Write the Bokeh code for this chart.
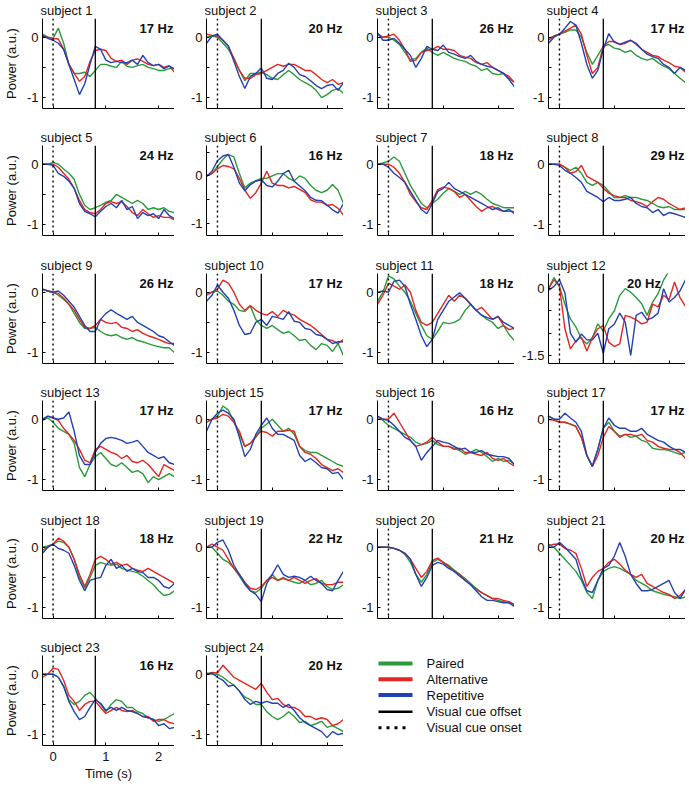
from bokeh.plotting import figure
from bokeh.layouts import column, row
from bokeh.models import Span, Label, FixedTicker, Range1d
from bokeh.embed import file_html
from bokeh.resources import INLINE

# ---------------- data ----------------
time_s = [-0.2, -0.1, 0.0, 0.1, 0.2, 0.3, 0.4, 0.5, 0.6, 0.7, 0.8, 0.9, 1.0,
          1.1, 1.2, 1.3, 1.4, 1.5, 1.6, 1.7, 1.8, 1.9, 2.0, 2.1, 2.2, 2.3]

subjects = ["subject 1", "subject 2", "subject 3", "subject 4",
            "subject 5", "subject 6", "subject 7", "subject 8",
            "subject 9", "subject 10", "subject 11", "subject 12",
            "subject 13", "subject 15", "subject 16", "subject 17",
            "subject 18", "subject 19", "subject 20", "subject 21",
            "subject 23", "subject 24"]
freqs = ["17 Hz", "20 Hz", "26 Hz", "17 Hz",
         "24 Hz", "16 Hz", "18 Hz", "29 Hz",
         "26 Hz", "17 Hz", "18 Hz", "20 Hz",
         "17 Hz", "17 Hz", "16 Hz", "17 Hz",
         "18 Hz", "22 Hz", "21 Hz", "20 Hz",
         "16 Hz", "20 Hz"]
y_low = [-1.18] * 5 + [-1.25] + [-1.18] * 5 + [-1.68] + [-1.18] * 10
y_high = [0.31] * 5 + [0.64] + [0.31] * 5 + [0.34] + [0.31] * 10

x_ticks = [0, 1, 2]
x_tick_labels = ["0", "1", "2"]

s1_paired = [0.05, 0.0, -0.02, 0.15, -0.1, -0.45, -0.6, -0.6, -0.58, -0.65, -0.55, -0.45, -0.45, -0.48, -0.5, -0.4, -0.48, -0.5, -0.47, -0.45, -0.5, -0.52, -0.55, -0.55, -0.52, -0.52]
s1_alt = [0.02, 0.0, -0.02, -0.03, -0.2, -0.45, -0.6, -0.73, -0.65, -0.4, -0.22, -0.2, -0.22, -0.35, -0.4, -0.38, -0.45, -0.38, -0.36, -0.4, -0.45, -0.47, -0.45, -0.5, -0.47, -0.58]
s1_rep = [0.03, -0.02, -0.05, -0.1, -0.2, -0.45, -0.7, -0.95, -0.77, -0.45, -0.15, -0.2, -0.38, -0.42, -0.4, -0.42, -0.42, -0.38, -0.45, -0.3, -0.42, -0.47, -0.45, -0.52, -0.48, -0.52]

s2_paired = [0.0, 0.02, 0.0, -0.1, -0.2, -0.35, -0.55, -0.72, -0.6, -0.6, -0.58, -0.62, -0.68, -0.7, -0.62, -0.55, -0.62, -0.7, -0.75, -0.8, -0.88, -1.0, -0.95, -0.88, -0.85, -0.93]
s2_alt = [0.05, 0.03, 0.02, -0.05, -0.15, -0.35, -0.55, -0.68, -0.68, -0.62, -0.6, -0.55, -0.5, -0.45, -0.48, -0.45, -0.45, -0.5, -0.55, -0.55, -0.62, -0.7, -0.75, -0.7, -0.78, -0.75]
s2_rep = [-0.1, 0.02, 0.05, -0.05, -0.15, -0.4, -0.65, -0.85, -0.65, -0.6, -0.51, -0.68, -0.7, -0.6, -0.55, -0.43, -0.5, -0.62, -0.65, -0.72, -0.8, -0.85, -0.8, -0.78, -0.88, -0.75]

s3_paired = [0.05, 0.0, 0.0, -0.05, -0.12, -0.25, -0.38, -0.35, -0.25, -0.18, -0.25, -0.3, -0.25, -0.3, -0.35, -0.38, -0.4, -0.45, -0.48, -0.55, -0.52, -0.6, -0.62, -0.6, -0.68, -0.75]
s3_alt = [0.05, 0.0, 0.02, 0.05, -0.05, -0.2, -0.4, -0.38, -0.25, -0.22, -0.2, -0.15, -0.2, -0.2, -0.22, -0.3, -0.33, -0.35, -0.42, -0.45, -0.42, -0.5, -0.55, -0.6, -0.65, -0.75]
s3_rep = [0.07, -0.05, -0.05, -0.02, -0.1, -0.2, -0.3, -0.5, -0.35, -0.15, -0.2, -0.22, -0.13, -0.25, -0.28, -0.32, -0.35, -0.3, -0.4, -0.45, -0.48, -0.5, -0.55, -0.6, -0.7, -0.82]

s4_paired = [-0.02, 0.02, 0.05, 0.08, 0.12, 0.12, 0.0, -0.25, -0.45, -0.3, -0.15, -0.12, -0.18, -0.2, -0.25, -0.22, -0.3, -0.35, -0.38, -0.35, -0.42, -0.48, -0.52, -0.6, -0.68, -0.75]
s4_alt = [-0.05, 0.02, 0.05, 0.1, 0.15, 0.2, 0.05, -0.3, -0.6, -0.5, -0.15, -0.07, -0.07, -0.12, -0.1, -0.05, -0.12, -0.2, -0.25, -0.3, -0.32, -0.38, -0.42, -0.48, -0.5, -0.58]
s4_rep = [-0.1, 0.0, 0.05, 0.15, 0.26, 0.2, -0.1, -0.45, -0.68, -0.55, -0.2, 0.06, -0.08, -0.12, -0.08, -0.05, -0.1, -0.2, -0.28, -0.32, -0.35, -0.45, -0.5, -0.6, -0.5, -0.55]

s5_paired = [0.0, 0.0, 0.03, 0.0, -0.08, -0.15, -0.25, -0.5, -0.68, -0.75, -0.72, -0.68, -0.63, -0.6, -0.5, -0.55, -0.6, -0.65, -0.6, -0.65, -0.75, -0.72, -0.75, -0.72, -0.78, -0.8]
s5_alt = [0.0, 0.0, 0.0, -0.05, -0.15, -0.25, -0.4, -0.6, -0.75, -0.8, -0.82, -0.75, -0.65, -0.62, -0.65, -0.62, -0.7, -0.8, -0.85, -0.75, -0.82, -0.88, -0.85, -0.88, -0.88, -0.92]
s5_rep = [0.0, 0.0, -0.02, -0.15, -0.2, -0.28, -0.4, -0.65, -0.78, -0.82, -0.87, -0.78, -0.7, -0.65, -0.72, -0.6, -0.75, -0.7, -0.9, -0.8, -0.85, -0.82, -0.9, -0.75, -0.85, -0.9]

s6_paired = [0.0, 0.05, 0.2, 0.35, 0.45, 0.4, 0.05, -0.25, -0.15, -0.1, -0.05, -0.05, 0.0, 0.05, 0.05, -0.05, -0.1, 0.0, -0.05, -0.2, -0.3, -0.35, -0.3, -0.18, -0.3, -0.58]
s6_alt = [0.0, 0.05, 0.15, 0.22, 0.2, 0.15, -0.05, -0.3, -0.47, -0.35, -0.15, 0.1, -0.15, -0.2, -0.2, -0.25, -0.22, -0.28, -0.35, -0.5, -0.55, -0.55, -0.62, -0.6, -0.68, -0.82]
s6_rep = [-0.01, 0.1, 0.32, 0.42, 0.45, 0.18, -0.15, -0.31, -0.18, -0.11, -0.08, -0.2, -0.23, -0.11, 0.05, 0.12, -0.11, -0.21, -0.31, -0.45, -0.51, -0.52, -0.61, -0.71, -0.78, -0.58]

s7_paired = [0.0, 0.02, 0.05, 0.12, 0.05, -0.15, -0.35, -0.5, -0.65, -0.72, -0.65, -0.58, -0.48, -0.4, -0.45, -0.5, -0.45, -0.5, -0.45, -0.5, -0.58, -0.65, -0.68, -0.72, -0.72, -0.72]
s7_alt = [0.0, 0.0, 0.0, -0.05, -0.15, -0.3, -0.5, -0.62, -0.72, -0.75, -0.6, -0.42, -0.38, -0.4, -0.45, -0.55, -0.5, -0.6, -0.7, -0.78, -0.72, -0.7, -0.75, -0.78, -0.78, -0.78]
s7_rep = [0.0, 0.0, -0.05, -0.15, -0.22, -0.3, -0.45, -0.6, -0.75, -0.82, -0.65, -0.45, -0.4, -0.3, -0.4, -0.45, -0.5, -0.55, -0.6, -0.65, -0.7, -0.75, -0.72, -0.78, -0.75, -0.82]

s8_paired = [0.0, 0.0, 0.0, -0.05, -0.1, -0.05, -0.15, -0.3, -0.35, -0.3, -0.35, -0.45, -0.55, -0.55, -0.52, -0.55, -0.55, -0.58, -0.6, -0.65, -0.7, -0.72, -0.7, -0.75, -0.75, -0.75]
s8_alt = [0.0, 0.0, 0.0, -0.05, -0.15, -0.12, -0.02, -0.2, -0.25, -0.3, -0.4, -0.48, -0.52, -0.55, -0.55, -0.6, -0.62, -0.65, -0.7, -0.62, -0.55, -0.58, -0.65, -0.7, -0.75, -0.72]
s8_rep = [0.0, 0.0, -0.02, -0.1, -0.15, -0.22, -0.3, -0.45, -0.5, -0.55, -0.62, -0.55, -0.6, -0.6, -0.58, -0.55, -0.65, -0.7, -0.72, -0.8, -0.75, -0.85, -0.8, -0.82, -0.85, -0.88]

s9_paired = [0.05, 0.02, 0.0, -0.05, -0.12, -0.2, -0.35, -0.5, -0.6, -0.6, -0.58, -0.65, -0.7, -0.72, -0.7, -0.75, -0.78, -0.75, -0.8, -0.82, -0.85, -0.88, -0.9, -0.92, -0.92, -1.0]
s9_alt = [0.05, 0.02, 0.0, -0.02, -0.1, -0.2, -0.3, -0.45, -0.58, -0.6, -0.55, -0.45, -0.5, -0.52, -0.5, -0.58, -0.6, -0.65, -0.62, -0.68, -0.72, -0.75, -0.78, -0.82, -0.85, -0.85]
s9_rep = [0.05, 0.02, 0.0, 0.02, -0.05, -0.15, -0.25, -0.4, -0.55, -0.65, -0.65, -0.45, -0.35, -0.29, -0.35, -0.4, -0.45, -0.4, -0.5, -0.55, -0.6, -0.65, -0.72, -0.75, -0.82, -0.88]

s10_paired = [-0.02, 0.0, 0.02, -0.05, -0.15, -0.2, -0.3, -0.32, -0.23, -0.45, -0.55, -0.6, -0.55, -0.62, -0.68, -0.65, -0.72, -0.8, -0.78, -0.88, -0.95, -0.85, -0.88, -0.98, -0.85, -1.05]
s10_alt = [-0.05, 0.0, 0.05, 0.2, 0.15, 0.0, -0.2, -0.3, -0.22, -0.3, -0.35, -0.38, -0.32, -0.4, -0.3, -0.35, -0.38, -0.45, -0.5, -0.55, -0.62, -0.7, -0.78, -0.8, -0.85, -0.78]
s10_rep = [-0.15, -0.05, 0.12, 0.0, -0.1, -0.3, -0.55, -0.7, -0.68, -0.5, -0.45, -0.55, -0.4, -0.42, -0.45, -0.32, -0.48, -0.5, -0.6, -0.62, -0.7, -0.72, -0.78, -0.85, -0.82, -0.82]

s11_paired = [-0.15, 0.0, 0.27, 0.22, 0.1, 0.0, -0.15, -0.35, -0.55, -0.72, -0.78, -0.65, -0.5, -0.52, -0.5, -0.45, -0.3, -0.2, -0.3, -0.38, -0.45, -0.5, -0.6, -0.55, -0.7, -0.8]
s11_alt = [-0.2, -0.05, 0.15, 0.1, 0.05, 0.12, 0.0, -0.3, -0.5, -0.55, -0.5, -0.35, -0.2, -0.05, -0.15, -0.05, -0.1, -0.2, -0.3, -0.25, -0.35, -0.45, -0.4, -0.55, -0.62, -0.6]
s11_rep = [0.0, 0.02, 0.0, 0.18, 0.2, 0.1, -0.2, -0.45, -0.72, -0.9, -0.78, -0.45, -0.3, -0.15, -0.08, -0.01, -0.1, -0.2, -0.3, -0.38, -0.42, -0.45, -0.4, -0.5, -0.55, -0.6]

s12_paired = [0.0, 0.25, 0.05, -0.35, -0.68, -0.86, -1.12, -1.24, -1.1, -0.79, -0.95, -0.68, -0.5, -0.15, 0.0, -0.08, -0.2, -0.34, -0.6, -0.3, -0.11, 0.19, 0.4, 0.55, 0.7, 0.8]
s12_alt = [0.0, 0.2, 0.05, -0.9, -1.35, -1.17, -1.09, -1.4, -1.1, -0.9, -0.83, -1.2, -1.3, -1.24, -0.6, -0.64, -0.7, -0.79, -0.75, -0.35, -0.41, -0.15, -0.25, 0.15, -0.2, -0.4]
s12_rep = [-0.04, 0.05, 0.2, -0.1, -1.0, -1.2, -1.02, -1.15, -1.15, -1.0, -1.45, -0.9, -0.8, -0.55, -0.75, -1.5, -0.6, -0.53, -0.7, -0.65, -0.55, 0.0, -0.3, -0.2, -0.05, 0.2]

s13_paired = [0.0, 0.02, -0.05, -0.15, -0.2, -0.25, -0.4, -0.8, -0.95, -0.75, -0.62, -0.55, -0.65, -0.75, -0.78, -0.72, -0.8, -0.88, -0.85, -0.9, -1.05, -0.95, -1.0, -0.95, -0.9, -0.95]
s13_alt = [-0.02, 0.05, 0.02, -0.02, -0.15, -0.25, -0.35, -0.5, -0.68, -0.72, -0.5, -0.45, -0.5, -0.55, -0.58, -0.65, -0.6, -0.7, -0.72, -0.68, -0.75, -0.85, -0.95, -0.75, -0.8, -0.85]
s13_rep = [0.0, 0.05, 0.02, 0.0, 0.02, 0.12, -0.2, -0.6, -0.75, -0.75, -0.55, -0.4, -0.32, -0.3, -0.32, -0.35, -0.4, -0.38, -0.35, -0.45, -0.55, -0.6, -0.65, -0.62, -0.72, -0.75]

s15_paired = [-0.05, 0.0, 0.05, 0.22, 0.15, -0.05, -0.25, -0.45, -0.4, -0.3, -0.15, -0.08, 0.0, -0.1, -0.2, -0.15, -0.25, -0.45, -0.52, -0.55, -0.55, -0.6, -0.65, -0.7, -0.75, -0.78]
s15_alt = [-0.05, 0.0, 0.02, 0.08, 0.05, -0.05, -0.2, -0.45, -0.4, -0.28, -0.2, -0.22, -0.28, -0.2, -0.2, -0.18, -0.2, -0.45, -0.55, -0.58, -0.65, -0.75, -0.8, -0.85, -0.82, -0.88]
s15_rep = [-0.2, 0.0, 0.1, 0.15, 0.1, 0.0, -0.3, -0.62, -0.5, -0.25, -0.1, 0.02, -0.15, -0.25, -0.25, -0.3, -0.35, -0.6, -0.7, -0.65, -0.72, -0.8, -0.82, -0.9, -0.88, -1.0]

s16_paired = [0.05, -0.02, -0.1, -0.15, -0.2, -0.25, -0.3, -0.38, -0.42, -0.4, -0.35, -0.42, -0.45, -0.45, -0.48, -0.52, -0.58, -0.55, -0.5, -0.55, -0.62, -0.7, -0.65, -0.7, -0.68, -0.75]
s16_alt = [0.0, 0.0, 0.0, 0.1, -0.05, -0.2, -0.35, -0.45, -0.42, -0.38, -0.3, -0.38, -0.45, -0.45, -0.5, -0.48, -0.55, -0.55, -0.58, -0.6, -0.55, -0.65, -0.68, -0.65, -0.72, -0.78]
s16_rep = [0.05, 0.0, -0.02, -0.1, -0.2, -0.3, -0.35, -0.45, -0.68, -0.55, -0.45, -0.35, -0.38, -0.4, -0.45, -0.5, -0.48, -0.55, -0.55, -0.52, -0.58, -0.6, -0.62, -0.62, -0.65, -0.75]

s17_paired = [0.05, 0.0, -0.05, -0.05, -0.08, -0.12, -0.3, -0.6, -0.78, -0.5, -0.15, -0.05, -0.2, -0.28, -0.25, -0.3, -0.28, -0.35, -0.38, -0.48, -0.5, -0.5, -0.52, -0.55, -0.58, -0.55]
s17_alt = [0.0, -0.02, -0.05, -0.05, -0.08, -0.12, -0.3, -0.6, -0.78, -0.6, -0.3, -0.12, -0.2, -0.3, -0.25, -0.25, -0.28, -0.25, -0.35, -0.38, -0.45, -0.48, -0.5, -0.5, -0.55, -0.65]
s17_rep = [0.05, 0.0, 0.0, 0.1, 0.02, -0.05, -0.2, -0.6, -0.78, -0.5, -0.15, 0.02, -0.1, -0.15, -0.15, -0.2, -0.2, -0.15, -0.25, -0.3, -0.35, -0.38, -0.45, -0.5, -0.5, -0.55]

s18_paired = [0.0, 0.02, 0.05, 0.1, 0.08, 0.0, -0.2, -0.5, -0.68, -0.5, -0.3, -0.25, -0.28, -0.3, -0.28, -0.35, -0.38, -0.4, -0.42, -0.48, -0.55, -0.62, -0.72, -0.8, -0.78, -0.72]
s18_alt = [-0.05, 0.0, 0.05, 0.15, 0.1, 0.0, -0.2, -0.45, -0.65, -0.45, -0.2, -0.15, -0.2, -0.28, -0.25, -0.3, -0.28, -0.35, -0.38, -0.4, -0.35, -0.4, -0.45, -0.5, -0.55, -0.6]
s18_rep = [-0.1, 0.0, 0.05, -0.02, -0.05, -0.1, -0.3, -0.55, -0.72, -0.55, -0.52, -0.5, -0.3, -0.2, -0.35, -0.3, -0.4, -0.35, -0.4, -0.42, -0.5, -0.5, -0.55, -0.65, -0.68, -0.6]

s19_paired = [0.0, 0.0, -0.1, -0.2, -0.25, -0.35, -0.48, -0.62, -0.72, -0.75, -0.68, -0.55, -0.45, -0.55, -0.5, -0.55, -0.58, -0.6, -0.55, -0.62, -0.6, -0.55, -0.65, -0.7, -0.68, -0.62]
s19_alt = [0.0, 0.05, 0.0, -0.05, -0.2, -0.35, -0.45, -0.58, -0.68, -0.7, -0.65, -0.55, -0.5, -0.55, -0.52, -0.55, -0.5, -0.55, -0.6, -0.55, -0.52, -0.6, -0.62, -0.62, -0.58, -0.58]
s19_rep = [0.0, 0.0, 0.08, 0.12, -0.05, -0.3, -0.45, -0.6, -0.72, -0.78, -0.9, -0.6, -0.45, -0.29, -0.45, -0.5, -0.48, -0.5, -0.55, -0.48, -0.55, -0.6, -0.7, -0.72, -0.55, -0.4]

s20_paired = [0.0, 0.0, 0.0, -0.02, -0.05, -0.12, -0.25, -0.45, -0.58, -0.45, -0.25, -0.2, -0.25, -0.3, -0.38, -0.45, -0.52, -0.6, -0.68, -0.75, -0.8, -0.85, -0.88, -0.9, -0.92, -0.95]
s20_alt = [0.0, 0.0, 0.0, -0.02, -0.05, -0.1, -0.2, -0.35, -0.5, -0.4, -0.22, -0.18, -0.25, -0.32, -0.4, -0.45, -0.55, -0.62, -0.7, -0.75, -0.8, -0.85, -0.85, -0.88, -0.9, -0.95]
s20_rep = [0.0, 0.0, 0.0, -0.02, -0.05, -0.1, -0.2, -0.45, -0.65, -0.5, -0.3, -0.25, -0.28, -0.35, -0.4, -0.48, -0.55, -0.62, -0.72, -0.82, -0.88, -0.88, -0.9, -0.92, -0.92, -0.98]

s21_paired = [0.05, 0.0, -0.1, -0.2, -0.3, -0.4, -0.55, -0.75, -0.85, -0.55, -0.4, -0.35, -0.32, -0.35, -0.4, -0.45, -0.55, -0.6, -0.65, -0.72, -0.75, -0.78, -0.8, -0.82, -0.85, -0.82]
s21_alt = [0.02, 0.05, 0.05, -0.02, -0.05, -0.1, -0.35, -0.65, -0.5, -0.4, -0.35, -0.25, -0.2, -0.28, -0.38, -0.45, -0.5, -0.45, -0.6, -0.65, -0.7, -0.75, -0.78, -0.85, -0.8, -0.7]
s21_rep = [0.0, 0.0, 0.08, 0.0, -0.1, -0.2, -0.5, -0.72, -0.75, -0.55, -0.35, -0.3, -0.15, 0.08, -0.15, -0.45, -0.6, -0.72, -0.72, -0.7, -0.65, -0.6, -0.55, -0.75, -0.85, -0.7]

s23_paired = [0.0, 0.0, 0.0, -0.05, -0.2, -0.42, -0.5, -0.45, -0.35, -0.3, -0.4, -0.5, -0.62, -0.5, -0.42, -0.45, -0.55, -0.55, -0.62, -0.65, -0.72, -0.75, -0.78, -0.75, -0.7, -0.65]
s23_alt = [-0.05, 0.0, 0.1, 0.08, -0.1, -0.35, -0.45, -0.6, -0.5, -0.45, -0.45, -0.55, -0.65, -0.6, -0.55, -0.6, -0.62, -0.6, -0.65, -0.7, -0.7, -0.78, -0.75, -0.75, -0.8, -0.82]
s23_rep = [0.0, 0.0, 0.0, -0.05, -0.2, -0.45, -0.62, -0.75, -0.7, -0.55, -0.42, -0.48, -0.6, -0.55, -0.6, -0.55, -0.6, -0.62, -0.65, -0.7, -0.72, -0.75, -0.85, -0.82, -0.9, -0.88]

s24_paired = [0.02, 0.0, 0.0, -0.05, -0.12, -0.18, -0.28, -0.38, -0.42, -0.5, -0.5, -0.62, -0.7, -0.75, -0.7, -0.62, -0.7, -0.8, -0.78, -0.85, -0.82, -0.78, -0.88, -0.85, -0.9, -0.95]
s24_alt = [0.0, 0.03, 0.02, 0.15, 0.05, -0.05, -0.1, -0.15, -0.2, -0.25, -0.15, -0.3, -0.42, -0.4, -0.5, -0.55, -0.55, -0.6, -0.7, -0.7, -0.75, -0.72, -0.75, -0.85, -0.82, -0.75]
s24_rep = [0.0, 0.02, -0.05, -0.1, -0.2, -0.18, -0.28, -0.42, -0.5, -0.45, -0.48, -0.45, -0.48, -0.48, -0.55, -0.5, -0.6, -0.72, -0.8, -0.85, -0.9, -0.95, -1.05, -0.95, -1.0, -0.98]

paired_series = [s1_paired, s2_paired, s3_paired, s4_paired, s5_paired, s6_paired,
                 s7_paired, s8_paired, s9_paired, s10_paired, s11_paired, s12_paired,
                 s13_paired, s15_paired, s16_paired, s17_paired, s18_paired, s19_paired,
                 s20_paired, s21_paired, s23_paired, s24_paired]
alt_series = [s1_alt, s2_alt, s3_alt, s4_alt, s5_alt, s6_alt, s7_alt, s8_alt,
              s9_alt, s10_alt, s11_alt, s12_alt, s13_alt, s15_alt, s16_alt, s17_alt,
              s18_alt, s19_alt, s20_alt, s21_alt, s23_alt, s24_alt]
rep_series = [s1_rep, s2_rep, s3_rep, s4_rep, s5_rep, s6_rep, s7_rep, s8_rep,
              s9_rep, s10_rep, s11_rep, s12_rep, s13_rep, s15_rep, s16_rep, s17_rep,
              s18_rep, s19_rep, s20_rep, s21_rep, s23_rep, s24_rep]

cue_onset = 0.0
cue_offset = 0.8
legend_labels = ["Paired", "Alternative", "Repetitive", "Visual cue offset", "Visual cue onset"]

# ---------------- style / layout ----------------
FONT = "Liberation Sans"
GREEN = "#2a9a3a"
RED = "#e42522"
BLUE = "#2341b3"
LW = 1.4
TOP = 17
FRAME_W = 137
FRAME_H = 91
COL_LEFT = [37, 32, 34, 34]            # left border of each column
ROW_HEIGHTS = [127, 128, 127, 128, 127]
LAST_H = 150
LAST_BOTTOM = LAST_H - TOP - FRAME_H


def make_panel(i, col, height, with_x_labels):
    left = COL_LEFT[col]
    bottom = height - TOP - FRAME_H
    p = figure(width=left + FRAME_W, height=height,
               x_range=Range1d(-0.2, 2.3), y_range=Range1d(y_low[i], y_high[i]),
               output_backend="svg", toolbar_location=None,
               min_border_left=left, min_border_right=0,
               min_border_top=TOP, min_border_bottom=bottom,
               title=subjects[i])
    p.title.align = "left"
    p.title.offset = -2
    p.title.standoff = 1
    p.title.text_font = FONT
    p.title.text_font_size = "13px"
    p.title.text_font_style = "normal"
    p.title.text_color = "#111111"
    p.outline_line_color = None
    p.grid.visible = False

    p.line(time_s, paired_series[i], line_color=GREEN, line_width=LW)
    p.line(time_s, alt_series[i], line_color=RED, line_width=LW)
    p.line(time_s, rep_series[i], line_color=BLUE, line_width=LW)

    p.add_layout(Span(location=cue_onset, dimension="height", line_color="black",
                      line_width=1.4, line_dash="2 3"))
    p.add_layout(Span(location=cue_offset, dimension="height", line_color="black",
                      line_width=1.3))

    hz_x = 1.87 if subjects[i] == "subject 12" else 2.3
    p.add_layout(Label(x=hz_x, y=y_high[i], x_offset=-1, y_offset=-2, text=freqs[i],
                       text_align="right", text_baseline="top",
                       text_font=FONT, text_font_size="13px",
                       text_font_style="bold", text_color="#111111"))

    xa = p.xaxis[0]
    xa.ticker = FixedTicker(ticks=x_ticks)
    xa.major_tick_in = 3
    xa.major_tick_out = 0
    xa.minor_tick_line_color = None
    xa.axis_line_color = "black"
    xa.major_tick_line_color = "black"
    xa.major_label_text_font = FONT
    xa.major_label_text_font_size = "13px"
    xa.major_label_text_color = "#111111"
    if with_x_labels:
        xa.major_label_overrides = {t: s for t, s in zip(x_ticks, x_tick_labels)}
        xa.major_label_standoff = 6
        xa.axis_label = "Time (s)"
        xa.axis_label_text_font = FONT
        xa.axis_label_text_font_size = "13px"
        xa.axis_label_text_font_style = "normal"
        xa.axis_label_text_color = "#111111"
        xa.axis_label_standoff = 2
    else:
        xa.major_label_overrides = {t: "" for t in x_ticks}
        xa.major_label_standoff = 0

    ya = p.yaxis[0]
    lo, hi = y_low[i], y_high[i]
    ticks = [v for v in [-1.5, -1.0, -0.5, 0.0, 0.5] if lo <= v <= hi]
    lab_lo = -1.5 if lo < -1.5 else -1.0
    ya.ticker = FixedTicker(ticks=ticks)
    ya.major_label_overrides = {t: ("0" if t == 0 else ("%g" % t if t == lab_lo else "")) for t in ticks}
    ya.major_tick_in = 3
    ya.major_tick_out = 0
    ya.minor_tick_line_color = None
    ya.major_label_standoff = 4
    ya.major_label_text_font = FONT
    ya.major_label_text_font_size = "13px"
    ya.major_label_text_color = "#111111"
    if col == 0:
        ya.axis_label = "Power (a.u.)"
        ya.axis_label_text_font = FONT
        ya.axis_label_text_font_size = "13px"
        ya.axis_label_text_font_style = "normal"
        ya.axis_label_text_color = "#111111"
        ya.axis_label_standoff = 5
    return p


rows = []
idx = 0
for r in range(5):
    figs = []
    for c in range(4):
        figs.append(make_panel(idx, c, ROW_HEIGHTS[r], False))
        idx += 1
    rows.append(row(*figs))

f23 = make_panel(20, 0, LAST_H, True)
f24 = make_panel(21, 1, LAST_H, False)

# legend panel: blank plot with the same borders as its neighbours;
# its ranges run in pixels from the top-left corner of its frame
LG_W = 342
lg = figure(width=LG_W, height=LAST_H, x_range=Range1d(0, LG_W), y_range=Range1d(FRAME_H, 0),
            output_backend="svg", toolbar_location=None,
            x_axis_location=None, y_axis_location=None,
            min_border_left=0, min_border_right=0,
            min_border_top=TOP, min_border_bottom=LAST_BOTTOM)
lg.outline_line_color = None
lg.grid.visible = False
row_y = [8, 24, 40, 57, 73]
gx0, gx1, tx = 35, 69, 83
lg.segment(x0=[gx0] * 3, y0=row_y[:3], x1=[gx1] * 3, y1=row_y[:3],
           line_color=[GREEN, RED, BLUE], line_width=4)
lg.segment(x0=[gx0], y0=[row_y[3]], x1=[gx1], y1=[row_y[3]], line_color="black", line_width=2.5)
lg.segment(x0=[gx0], y0=[row_y[4]], x1=[gx1 - 3], y1=[row_y[4]], line_color="black",
           line_width=3, line_dash="3 5")
for lab, yy in zip(legend_labels, row_y):
    lg.add_layout(Label(x=tx, y=yy, text=lab, text_align="left", text_baseline="middle",
                        text_font=FONT, text_font_size="13px", text_color="#111111"))

rows.append(row(f23, f24, lg))
layout = column(*rows)

open("out.html", "w").write(file_html(layout, INLINE, "Power traces"))
